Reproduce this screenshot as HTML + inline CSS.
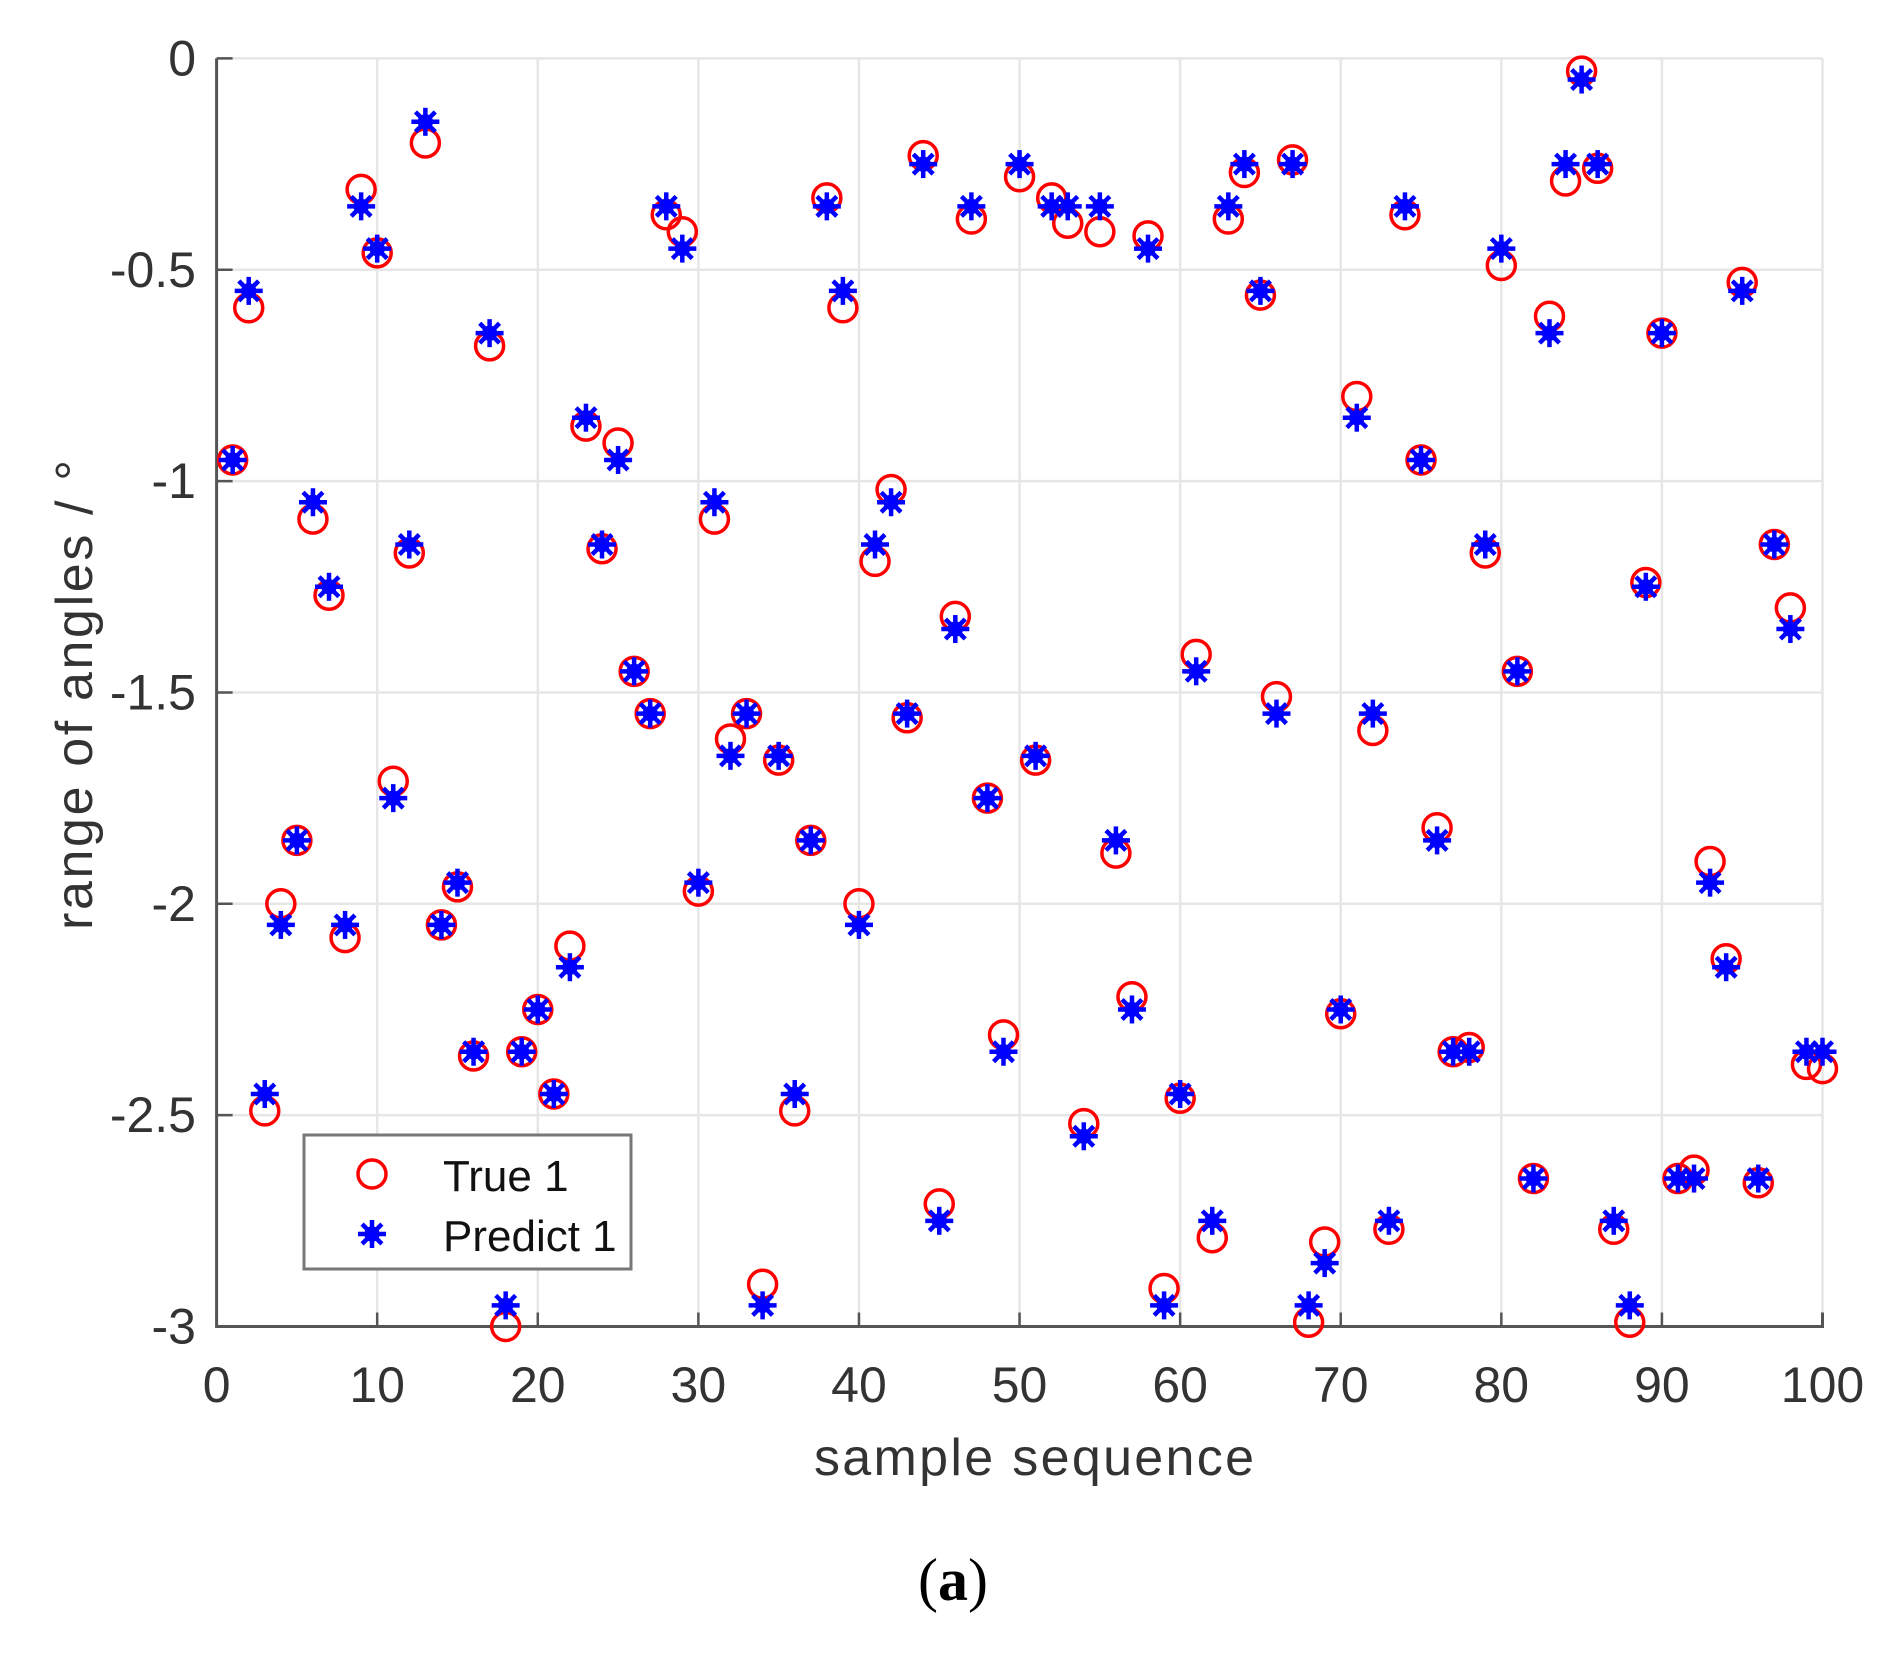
<!DOCTYPE html>
<html><head><meta charset="utf-8"><style>
html,body{margin:0;padding:0;background:#fff;}
svg{display:block;font-family:"Liberation Sans",sans-serif;}
</style></head><body>
<svg id="chart" width="1898" height="1655" viewBox="0 0 1898 1655" xmlns="http://www.w3.org/2000/svg">
<g id="grid"></g>
<g id="axes"></g>
<g id="marks"></g>
<text x="1034" y="1475" font-size="52" fill="#333" text-anchor="middle" textLength="440">sample sequence</text>
<text transform="translate(92,695) rotate(-90)" font-size="52" fill="#333" text-anchor="middle" textLength="470">range of angles / °</text>
<g>
<rect x="304" y="1135" width="327" height="134" fill="#fff" stroke="#777" stroke-width="3"/>
<circle cx="372" cy="1174" r="14" fill="none" stroke="#ff0000" stroke-width="3.5"/>
<text x="443" y="1191" font-size="44" fill="#111">True 1</text>
<g id="legstar"></g>
<text x="443" y="1251" font-size="44" fill="#111">Predict 1</text>
</g>
<text x="953" y="1600" font-size="60" font-family="Liberation Serif, serif" text-anchor="middle" fill="#000">(<tspan font-weight="bold">a</tspan>)</text>
</svg>
<script>
const samples = Array.from({length:100},(_,i)=>i+1);
const trueVals = [-0.95,-0.59,-2.49,-2.0,-1.85,-1.09,-1.27,-2.08,-0.31,-0.46,
-1.71,-1.17,-0.2,-2.05,-1.96,-2.36,-0.68,-3.0,-2.35,-2.25,
-2.45,-2.1,-0.87,-1.16,-0.91,-1.45,-1.55,-0.37,-0.41,-1.97,
-1.09,-1.61,-1.55,-2.9,-1.66,-2.49,-1.85,-0.33,-0.59,-2.0,
-1.19,-1.02,-1.56,-0.23,-2.71,-1.32,-0.38,-1.75,-2.31,-0.28,
-1.66,-0.33,-0.39,-2.52,-0.41,-1.88,-2.22,-0.42,-2.91,-2.46,
-1.41,-2.79,-0.38,-0.27,-0.56,-1.51,-0.24,-2.99,-2.8,-2.26,
-0.8,-1.59,-2.77,-0.37,-0.95,-1.82,-2.35,-2.34,-1.17,-0.49,
-1.45,-2.65,-0.61,-0.29,-0.03,-0.26,-2.77,-2.99,-1.24,-0.65,
-2.65,-2.63,-1.9,-2.13,-0.53,-2.66,-1.15,-1.3,-2.38,-2.39];
const predVals = [-0.95,-0.55,-2.45,-2.05,-1.85,-1.05,-1.25,-2.05,-0.35,-0.45,
-1.75,-1.15,-0.15,-2.05,-1.95,-2.35,-0.65,-2.95,-2.35,-2.25,
-2.45,-2.15,-0.85,-1.15,-0.95,-1.45,-1.55,-0.35,-0.45,-1.95,
-1.05,-1.65,-1.55,-2.95,-1.65,-2.45,-1.85,-0.35,-0.55,-2.05,
-1.15,-1.05,-1.55,-0.25,-2.75,-1.35,-0.35,-1.75,-2.35,-0.25,
-1.65,-0.35,-0.35,-2.55,-0.35,-1.85,-2.25,-0.45,-2.95,-2.45,
-1.45,-2.75,-0.35,-0.25,-0.55,-1.55,-0.25,-2.95,-2.85,-2.25,
-0.85,-1.55,-2.75,-0.35,-0.95,-1.85,-2.35,-2.35,-1.15,-0.45,
-1.45,-2.65,-0.65,-0.25,-0.05,-0.25,-2.75,-2.95,-1.25,-0.65,
-2.65,-2.65,-1.95,-2.15,-0.55,-2.65,-1.15,-1.35,-2.35,-2.35];
const xTicks = [0,10,20,30,40,50,60,70,80,90,100];
const yTicks = [0,-0.5,-1,-1.5,-2,-2.5,-3];
const yTickLabels = ["0","-0.5","-1","-1.5","-2","-2.5","-3"];

const X0=216.6, X1=1822.5, Y0=58.4, Y1=1326.5;
const xs = v => X0 + (v-0)/(100-0)*(X1-X0);
const ys = v => Y0 + (0-v)/(0-(-3))*(Y1-Y0);
const NS="http://www.w3.org/2000/svg";
function mk(tag, attrs, parent){const e=document.createElementNS(NS,tag);for(const k in attrs)e.setAttribute(k,attrs[k]);parent.appendChild(e);return e;}
const grid=document.getElementById('grid'), axes=document.getElementById('axes'), marks=document.getElementById('marks');

xTicks.forEach(t=>{
  const l=mk('line',{x1:xs(t),x2:xs(t),y1:Y0,y2:Y1,stroke:'#e6e6e6','stroke-width':2.5},grid);
  
  
  const tk=mk('line',{x1:xs(t),x2:xs(t),y1:Y1,y2:Y1-14,stroke:'#555','stroke-width':2.5},axes);
  
  
  const tx=mk('text',{x:xs(t),y:1402,'font-size':50,fill:'#333','text-anchor':'middle'},axes);
  tx.textContent=String(t);
  
  
});
yTicks.forEach((t,i)=>{
  const l=mk('line',{x1:X0,x2:X1,y1:ys(t),y2:ys(t),stroke:'#e6e6e6','stroke-width':2.5},grid);
  
  
  const tk=mk('line',{x1:X0,x2:X0+16,y1:ys(t),y2:ys(t),stroke:'#555','stroke-width':2.5},axes);
  
  
  const tx=mk('text',{x:196,y:ys(t)+17,'font-size':50,fill:'#333','text-anchor':'end'},axes);
  tx.textContent=yTickLabels[i];
  
  
});
const ax=mk('path',{d:`M${X0},${Y0} V${Y1} H${X1} V${Y1-14}`,fill:'none',stroke:'#555','stroke-width':3},axes);



function star(cx,cy,r,parent){
  const g=mk('g',{stroke:'#0000ff','stroke-width':4.5,'stroke-linecap':'butt'},parent);
  for(let k=0;k<4;k++){const a=k*Math.PI/4;mk('line',{x1:cx-r*Math.cos(a),y1:cy-r*Math.sin(a),x2:cx+r*Math.cos(a),y2:cy+r*Math.sin(a)},g);}
  mk('circle',{cx:cx,cy:cy,r:r*0.55,fill:'#0000ff',stroke:'none'},g);
  return g;
}
samples.forEach((s,i)=>{
  const c=mk('circle',{cx:xs(s),cy:ys(trueVals[i]),r:14,fill:'none',stroke:'#ff0000','stroke-width':3.5},marks);
  
  
});
samples.forEach((s,i)=>{
  const g=star(xs(s),ys(predVals[i]),14,marks);
  
  
});
star(372,1234,14,document.getElementById('legstar'));
</script>
</body></html>
